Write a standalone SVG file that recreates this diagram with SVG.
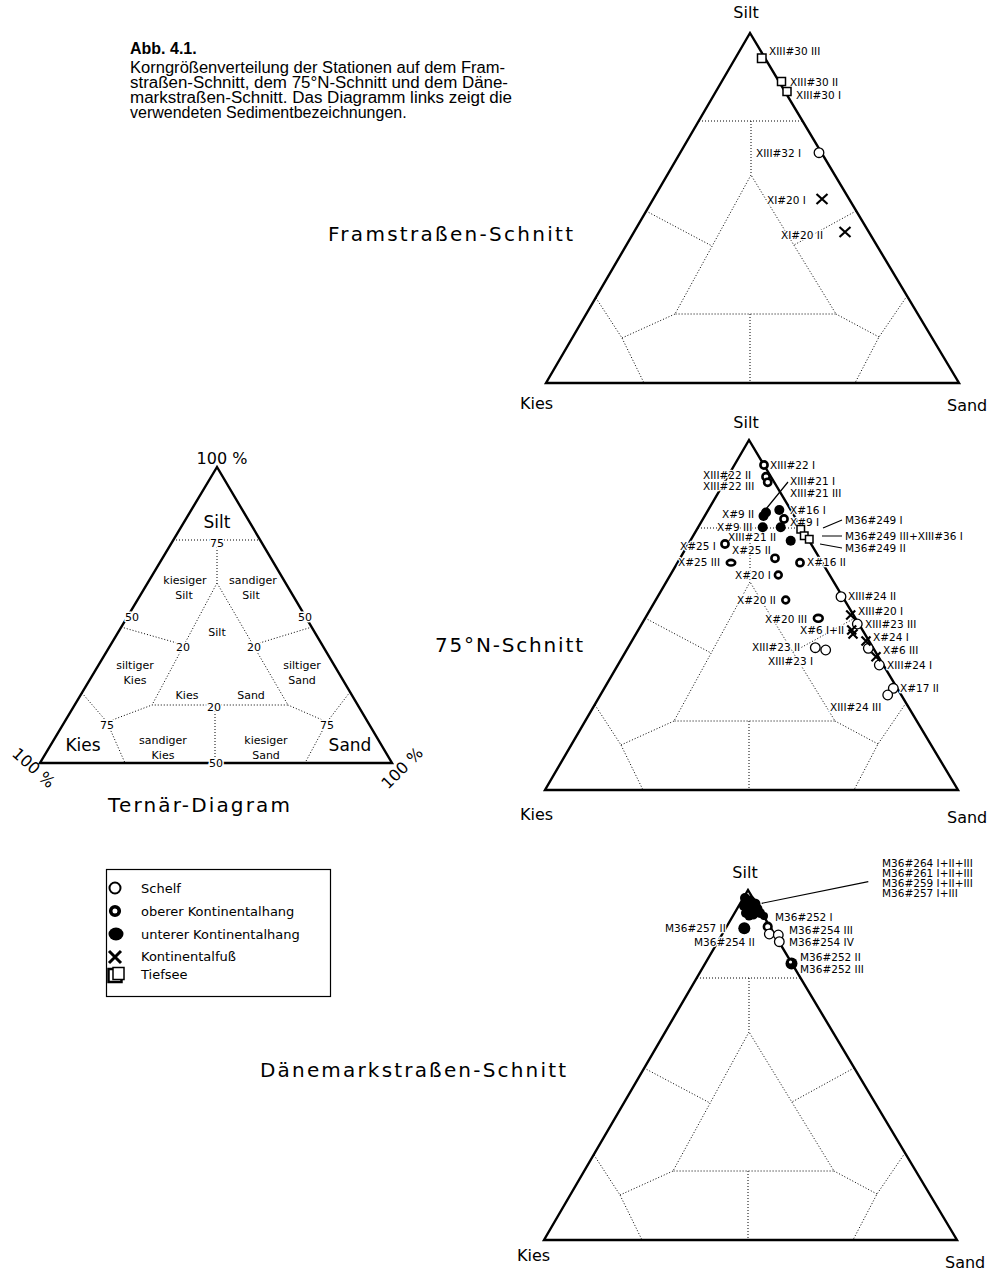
<svg xmlns="http://www.w3.org/2000/svg" xmlns:xlink="http://www.w3.org/1999/xlink" width="992" height="1271" viewBox="0 0 992 1271">
<style>
.tri{fill:none;stroke:#000;stroke-width:2.4;stroke-linejoin:miter}
.dot{fill:none;stroke:#000;stroke-width:1;stroke-dasharray:1 2}
.lbl{font-family:"DejaVu Sans",sans-serif;font-size:10.5px;fill:#000;stroke:#fff;stroke-width:2.5;paint-order:stroke;stroke-linejoin:round}
.ax{font-family:"DejaVu Sans",sans-serif;font-size:16px;fill:#000}
.ttl{font-family:"DejaVu Sans",sans-serif;font-size:20px;fill:#000}
.cap{font-family:"Liberation Sans",Arial,sans-serif;font-size:16px;fill:#000}
.sm{font-family:"DejaVu Sans",sans-serif;font-size:11px;fill:#000;text-anchor:middle}
.num{font-family:"DejaVu Sans",sans-serif;font-size:11px;fill:#000;text-anchor:middle;stroke:#fff;stroke-width:3;paint-order:stroke}
.big{font-family:"DejaVu Sans",sans-serif;font-size:17px;fill:#000;text-anchor:middle}
.leg{font-family:"DejaVu Sans",sans-serif;font-size:13px;fill:#000}
.open{fill:#fff;stroke:#000;stroke-width:1.3}
.ring{fill:#fff;stroke:#000;stroke-width:2.6}
.fil{fill:#000}
.sq{fill:#fff;stroke:#000;stroke-width:1.5}
.xm{fill:none;stroke:#000;stroke-width:2.2}
.lead{stroke:#000;stroke-width:1.2;fill:none}
</style>
<defs>
<g id="ternframe">
<path class="dot" d="M-51,88 L53,88 M1,88 L1,142 M1,142 L-75,281 L86,281 Z M-104,178 L-38,213 M106,178 L44,212 M-154,265 L-128,305 L-106,350 M-128,305 L-75,281 M157,263 L129,304 L105,350 M129,304 L86,281 M0,281 L0,350"/>
<path class="tri" d="M0,0 L-204,350 L209,350 Z"/>
</g>
<path id="x" d="M-4.5,-4.5 L4.5,4.5 M-4.5,4.5 L4.5,-4.5"/>
<path id="xb" d="M-5.5,-5 L5.5,5 M-5.5,5 L5.5,-5"/>
</defs>

<g id="caption">
<text class="cap" x="130" y="54" font-weight="bold">Abb. 4.1.</text>
<text class="cap" x="130" y="73" textLength="375" lengthAdjust="spacingAndGlyphs">Korngrößenverteilung der Stationen auf dem Fram-</text>
<text class="cap" x="130" y="88" textLength="378" lengthAdjust="spacingAndGlyphs">straßen-Schnitt, dem 75°N-Schnitt und dem Däne-</text>
<text class="cap" x="130" y="103" textLength="382" lengthAdjust="spacingAndGlyphs">markstraßen-Schnitt. Das Diagramm links zeigt die</text>
<text class="cap" x="130" y="118">verwendeten Sedimentbezeichnungen.</text>
</g>

<g id="ternaer-diagram">
<path class="dot" d="M173,540 L260,540 M217,547 L217,583 M217,583 L152,705 L288,705 Z M121,627 L184,645 M312,627 L253,645 M82,693 L107,722 L125,763 M107,722 L152,705 M350,692 L327,722 L305,763 M327,722 L288,705 M215,705 L215,763"/>
<path class="tri" d="M217,467 L40,763 L392,763 Z"/>
<text class="num" x="217" y="547">75</text>
<text class="num" x="132" y="621">50</text>
<text class="num" x="305" y="621">50</text>
<text class="num" x="183" y="651">20</text>
<text class="num" x="254" y="651">20</text>
<text class="num" x="214" y="711">20</text>
<text class="num" x="107" y="729">75</text>
<text class="num" x="327" y="729">75</text>
<text class="num" x="216" y="767">50</text>
<text class="ax" x="222" y="464" text-anchor="middle">100 %</text>
<text class="big" x="217" y="528">Silt</text>
<text class="sm" x="185" y="584">kiesiger</text>
<text class="sm" x="184" y="599">Silt</text>
<text class="sm" x="253" y="584">sandiger</text>
<text class="sm" x="251" y="599">Silt</text>
<text class="sm" x="217" y="636">Silt</text>
<text class="sm" x="135" y="669">siltiger</text>
<text class="sm" x="135" y="684">Kies</text>
<text class="sm" x="302" y="669">siltiger</text>
<text class="sm" x="302" y="684">Sand</text>
<text class="sm" x="187" y="699">Kies</text>
<text class="sm" x="251" y="699">Sand</text>
<text class="sm" x="163" y="744">sandiger</text>
<text class="sm" x="163" y="759">Kies</text>
<text class="sm" x="266" y="744">kiesiger</text>
<text class="sm" x="266" y="759">Sand</text>
<text class="big" x="83" y="751">Kies</text>
<text class="big" x="350" y="751">Sand</text>
<text class="ax" x="0" y="0" text-anchor="middle" transform="translate(30,772) rotate(42)">100 %</text>
<text class="ax" x="0" y="0" text-anchor="middle" transform="translate(406,772) rotate(-45)">100 %</text>
<text class="ttl" x="108" y="812" font-size="21" textLength="182" lengthAdjust="spacing">Ternär-Diagram</text>
</g>

<g id="legend">
<rect x="106.5" y="869.5" width="224" height="127" fill="#fff" stroke="#000" stroke-width="1.2"/>
<circle cx="115" cy="888" r="5.5" fill="#fff" stroke="#000" stroke-width="2"/>
<circle cx="115" cy="911" r="4.3" fill="#fff" stroke="#000" stroke-width="3.6"/>
<ellipse cx="116" cy="934" rx="7.5" ry="6.5" fill="#000"/>
<path d="M109,951 L121,963 M109,963 L121,951" stroke="#000" stroke-width="3" fill="none"/>
<rect x="108.5" y="969" width="13" height="13" fill="#fff" stroke="#000" stroke-width="2.5"/>
<rect x="113" y="967.5" width="11" height="12" fill="#fff" stroke="#000" stroke-width="1.5"/>
<text class="leg" x="141" y="893">Schelf</text>
<text class="leg" x="141" y="916">oberer Kontinentalhang</text>
<text class="leg" x="141" y="939">unterer Kontinentalhang</text>
<text class="leg" x="141" y="961">Kontinentalfuß</text>
<text class="leg" x="141" y="979">Tiefsee</text>
</g>

<g id="framstrasse">
<use xlink:href="#ternframe" href="#ternframe" transform="translate(750,33)"/>
<text class="ax" x="746" y="18" text-anchor="middle">Silt</text>
<text class="ax" x="520" y="409">Kies</text>
<text class="ax" x="947" y="411">Sand</text>
<text class="ttl" x="328" y="241" textLength="245" lengthAdjust="spacing">Framstraßen-Schnitt</text>
<g class="labels">
<text class="lbl" x="769" y="55">XIII#30 III</text>
<text class="lbl" x="790" y="86">XIII#30 II</text>
<text class="lbl" x="796" y="99">XIII#30 I</text>
<text class="lbl" x="756" y="157">XIII#32 I</text>
<text class="lbl" x="767" y="204">XI#20 I</text>
<text class="lbl" x="781" y="239">XI#20 II</text>
</g>
<g class="markers">
<rect class="sq" x="757.5" y="54" width="8.5" height="8.5"/>
<rect class="sq" x="777.5" y="77.5" width="8" height="8"/>
<rect class="sq" x="783" y="87.5" width="8" height="8"/>
<circle class="open" cx="819" cy="152.7" r="4.8"/>
<use href="#xb" xlink:href="#xb" class="xm" transform="translate(822,199)"/>
<use href="#xb" xlink:href="#xb" class="xm" transform="translate(845,232)"/>
</g>
</g>

<g id="schnitt-75n">
<use xlink:href="#ternframe" href="#ternframe" transform="translate(749,440)"/>
<text class="ax" x="746" y="428" text-anchor="middle">Silt</text>
<text class="ax" x="520" y="820">Kies</text>
<text class="ax" x="947" y="823">Sand</text>
<text class="ttl" x="435" y="652" textLength="148" lengthAdjust="spacing">75°N-Schnitt</text>
<g class="connectors">
<path class="lead" d="M788,482 L766,509 M823,528 L842,520 M822,536 L842,536 M820,544 L842,548"/>
</g>
<g class="labels">
<text class="lbl" x="770" y="469">XIII#22 I</text>
<text class="lbl" x="703" y="479">XIII#22 II</text>
<text class="lbl" x="703" y="490">XIII#22 III</text>
<text class="lbl" x="790" y="485">XIII#21 I</text>
<text class="lbl" x="790" y="497">XIII#21  III</text>
<text class="lbl" x="790" y="514">X#16 I</text>
<text class="lbl" x="722" y="518">X#9 II</text>
<text class="lbl" x="790" y="526">X#9 I</text>
<text class="lbl" x="717" y="531">X#9 III</text>
<text class="lbl" x="728" y="541">XIII#21 II</text>
<text class="lbl" x="680" y="550">X#25 I</text>
<text class="lbl" x="732" y="554">X#25 II</text>
<text class="lbl" x="678" y="566">X#25 III</text>
<text class="lbl" x="807" y="566">X#16 II</text>
<text class="lbl" x="735" y="579">X#20 I</text>
<text class="lbl" x="737" y="604">X#20 II</text>
<text class="lbl" x="765" y="623">X#20 III</text>
<text class="lbl" x="800" y="634">X#6 I+II</text>
<text class="lbl" x="752" y="651">XIII#23 II</text>
<text class="lbl" x="768" y="665">XIII#23 I</text>
<text class="lbl" x="848" y="600">XIII#24 II</text>
<text class="lbl" x="858" y="615">XIII#20 I</text>
<text class="lbl" x="865" y="628">XIII#23 III</text>
<text class="lbl" x="873" y="641">X#24 I</text>
<text class="lbl" x="883" y="654">X#6 III</text>
<text class="lbl" x="887" y="669">XIII#24 I</text>
<text class="lbl" x="900" y="692">X#17 II</text>
<text class="lbl" x="830" y="711">XIII#24 III</text>
<text class="lbl" x="845" y="524">M36#249 I</text>
<text class="lbl" x="845" y="540">M36#249 III+XIII#36 I</text>
<text class="lbl" x="845" y="552">M36#249 II</text>
</g>
<g class="markers">
<circle class="ring" cx="764" cy="465" r="3.6"/>
<circle class="ring" cx="766" cy="476.7" r="3.6"/>
<circle class="ring" cx="767.7" cy="482.3" r="3.6"/>
<circle class="fil" cx="766" cy="512.5" r="5"/>
<circle class="fil" cx="763.5" cy="516" r="5"/>
<circle class="fil" cx="779.3" cy="510" r="5"/>
<circle class="ring" cx="784" cy="519" r="3.6"/>
<circle class="fil" cx="762.7" cy="527.3" r="5"/>
<circle class="fil" cx="780.7" cy="527.3" r="5"/>
<circle class="fil" cx="790.7" cy="540.7" r="5"/>
<rect class="sq" x="797" y="525.5" width="7.5" height="7.5"/>
<rect class="sq" x="800.5" y="532" width="7.5" height="7.5"/>
<rect class="sq" x="805.5" y="535.5" width="7.5" height="7.5"/>
<circle class="ring" cx="725" cy="544" r="3.6"/>
<circle class="ring" cx="775" cy="558.3" r="3.6"/>
<ellipse class="ring" cx="731" cy="562.7" rx="4.2" ry="2.8"/>
<circle class="ring" cx="800" cy="562.7" r="3.6"/>
<circle class="ring" cx="778.3" cy="575" r="3.4"/>
<circle class="ring" cx="785.7" cy="600" r="3.4"/>
<ellipse class="ring" cx="818.3" cy="618.3" rx="4.4" ry="3.4"/>
<circle class="open" cx="841" cy="596.7" r="4.8"/>
<circle class="open" cx="857.3" cy="624" r="4.8"/>
<circle class="open" cx="868.3" cy="648.3" r="4.8"/>
<circle class="open" cx="879.3" cy="665" r="4.8"/>
<circle class="open" cx="893.3" cy="688.3" r="4.8"/>
<circle class="open" cx="887.7" cy="695" r="4.8"/>
<circle class="open" cx="815.3" cy="647.7" r="4.8"/>
<circle class="open" cx="825.7" cy="650" r="4.8"/>
<use href="#x" xlink:href="#x" class="xm" transform="translate(850.7,615)"/>
<use href="#x" xlink:href="#x" class="xm" transform="translate(851.7,630)"/>
<use href="#x" xlink:href="#x" class="xm" transform="translate(853,634)"/>
<use href="#x" xlink:href="#x" class="xm" transform="translate(866,641)"/>
<use href="#x" xlink:href="#x" class="xm" transform="translate(876,656.7)"/>
</g>
</g>

<g id="daenemarkstrasse">
<use xlink:href="#ternframe" href="#ternframe" transform="translate(748,890)"/>
<text class="ax" x="745" y="878" text-anchor="middle">Silt</text>
<text class="ax" x="517" y="1261">Kies</text>
<text class="ax" x="945" y="1268">Sand</text>
<text class="ttl" x="260" y="1077" textLength="306" lengthAdjust="spacing">Dänemarkstraßen-Schnitt</text>
<g class="connectors">
<path class="lead" d="M761.7,903.3 L868.3,881.7"/>
</g>
<g class="labels">
<text class="lbl" x="882" y="866.5">M36#264 I+II+III</text>
<text class="lbl" x="882" y="877">M36#261 I+II+III</text>
<text class="lbl" x="882" y="887">M36#259 I+II+III</text>
<text class="lbl" x="882" y="897">M36#257 I+III</text>
<text class="lbl" x="775" y="921">M36#252 I</text>
<text class="lbl" x="789" y="933.5">M36#254 III</text>
<text class="lbl" x="789" y="946">M36#254 IV</text>
<text class="lbl" x="665" y="932">M36#257 II</text>
<text class="lbl" x="694" y="946">M36#254 II</text>
<text class="lbl" x="800" y="960.5">M36#252 II</text>
<text class="lbl" x="800" y="973">M36#252 III</text>
</g>
<g class="markers">
<circle class="fil" cx="745" cy="898" r="5"/>
<circle class="fil" cx="750" cy="901" r="5.5"/>
<circle class="fil" cx="755" cy="904" r="5.5"/>
<circle class="fil" cx="744" cy="906" r="5"/>
<circle class="fil" cx="750" cy="908" r="5.5"/>
<circle class="fil" cx="757" cy="909" r="5.5"/>
<circle class="fil" cx="746" cy="913" r="5"/>
<circle class="fil" cx="753" cy="914" r="5.5"/>
<circle class="fil" cx="760" cy="913" r="5"/>
<circle class="fil" cx="764" cy="916" r="4"/>
<circle class="fil" cx="749" cy="916" r="4.5"/>
<circle class="fil" cx="744.3" cy="928.3" r="6"/>
<circle class="ring" cx="767.7" cy="926.7" r="3.8" stroke-width="3"/>
<circle class="open" cx="769.3" cy="934" r="4.8"/>
<circle class="open" cx="778.3" cy="935" r="4.8"/>
<circle class="open" cx="779.3" cy="941.7" r="4.8"/>
<circle class="fil" cx="791.5" cy="963.5" r="6"/>
<circle cx="790.5" cy="962" r="1.6" fill="#fff"/>
</g>
</g>
</svg>
